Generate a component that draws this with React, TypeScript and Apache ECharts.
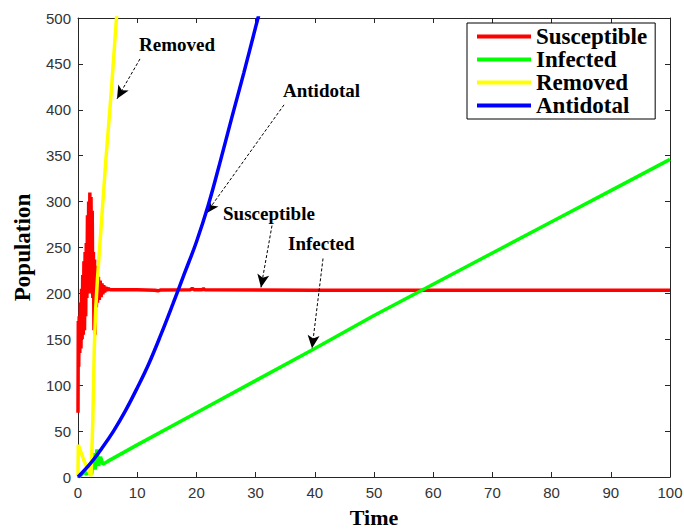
import React, { useEffect, useRef } from "react";
import * as echarts from "echarts";

// Simulated populations over time, as [time, population] pairs.
const susceptible: [number, number][] = [
  [0, 70], [0.05, 170], [0.12, 120], [0.2, 175], [0.3, 135], [0.4, 190], [0.5, 140],
  [0.6, 205], [0.7, 150], [0.8, 220], [0.9, 155], [1.0, 235], [1.1, 160], [1.2, 245],
  [1.3, 175], [1.4, 255], [1.5, 195], [1.6, 285], [1.7, 200], [1.8, 300], [1.9, 205],
  [2.0, 310], [2.1, 205], [2.2, 305], [2.3, 200], [2.4, 290], [2.5, 195], [2.6, 245],
  [2.7, 160], [2.8, 237], [2.9, 155], [3.0, 230], [3.1, 185], [3.2, 222], [3.3, 190],
  [3.45, 218], [3.6, 193], [3.75, 214], [3.9, 196], [4.05, 211], [4.2, 199], [4.35, 209],
  [4.5, 201], [4.7, 207], [4.9, 203], [5.1, 205.5], [5.4, 204], [10, 204], [13, 203.5],
  [13.5, 202.8], [14, 203.8], [19, 204], [19.3, 205.5], [19.6, 204], [21, 204], [21.2, 205.2],
  [21.4, 204], [40, 203.5], [70, 203.5], [100, 203.5],
];

const infected: [number, number][] = [
  [0, 0], [0.5, 2], [1, 5], [1.5, 3], [2, 10], [2.3, 3], [2.6, 26], [2.9, 8], [3.2, 30],
  [3.5, 12], [3.8, 22], [4.2, 14], [5, 17], [10, 35], [20, 70], [30, 105], [40, 140],
  [50, 176], [60, 210], [70, 244], [80, 278], [90, 312], [100, 346],
];

const removed: [number, number][] = [
  [0, 2], [0.05, 35], [1, 18], [2.2, 1], [2.5, 60], [2.75, 140], [3.0, 185], [3.3, 217],
  [3.9, 272], [4.7, 345], [5.6, 418], [6.5, 500], [6.7, 515],
];

const antidotal: [number, number][] = [
  [0, 0], [2, 14], [4, 31], [6, 50], [8, 72], [10, 97], [12, 124], [14, 155], [16, 188],
  [18, 222], [20, 256], [22, 296], [24, 343], [26, 392], [28, 440], [30, 490], [31, 515],
];

const seriesNames = ["Susceptible", "Infected", "Removed", "Antidotal"];
const seriesColors = ["#ff0000", "#00ff00", "#ffff00", "#0000ff"];
const seriesSmooth = [false, false, false, 0.4];

// Callout labels and their arrows: [label, from (time, population), to (time, population)].
const callouts: { text: string; from: [number, number]; to: [number, number] }[] = [
  { text: "Removed", from: [10.47, 455.4], to: [6.59, 412.0] },
  { text: "Antidotal", from: [34.8, 405.4], to: [21.62, 287.0] },
  { text: "Susceptible", from: [32.77, 273.9], to: [30.91, 206.5] },
  { text: "Infected", from: [41.39, 238.0], to: [39.53, 140.2] },
];
const calloutTextPos: [number, number][] = [
  [139, 35],
  [283, 81],
  [223, 204],
  [288, 234],
];

const xMin = 0, xMax = 100, xStep = 10;
const yMin = 0, yMax = 500, yStep = 50;

const axisColor = "#262626";
const serif = '"Liberation Serif", "Times New Roman", serif';
const sans = '"Liberation Sans", Arial, sans-serif';

function boxAxis(position: string, showLabels: boolean, kind: "x" | "y") {
  const isX = kind === "x";
  return {
    type: "value",
    position,
    min: isX ? xMin : yMin,
    max: isX ? xMax : yMax,
    interval: isX ? xStep : yStep,
    axisLine: { show: true, onZero: false, lineStyle: { color: axisColor, width: 1 } },
    axisTick: { show: true, inside: true, length: 5, lineStyle: { color: axisColor, width: 1 } },
    axisLabel: {
      show: showLabels,
      color: "#333333",
      fontSize: 15,
      fontFamily: sans,
      margin: isX ? 8 : 7,
    },
    splitLine: { show: false },
  };
}

export default function App() {
  const ref = useRef<HTMLDivElement>(null);

  useEffect(() => {
    if (!ref.current) return;
    const chart = echarts.init(ref.current, undefined, { renderer: "svg" });

    const data = [susceptible, infected, removed, antidotal];

    const xBottom: any = {
      ...boxAxis("bottom", true, "x"),
      name: "Time",
      nameLocation: "middle",
      nameGap: 29,
      nameTextStyle: { fontFamily: serif, fontWeight: "bold", fontSize: 22, color: "#000" },
    };
    const yLeft: any = {
      ...boxAxis("left", true, "y"),
      name: "Population",
      nameLocation: "middle",
      nameGap: 44,
      nameTextStyle: { fontFamily: serif, fontWeight: "bold", fontSize: 23, color: "#000" },
    };

    const series: any[] = seriesNames.map((name, i) => ({
      name,
      type: "line",
      xAxisIndex: 0,
      yAxisIndex: 0,
      data: data[i],
      showSymbol: false,
      symbol: "none",
      smooth: seriesSmooth[i],
      clip: true,
      lineStyle: { color: seriesColors[i], width: 3.5 },
      itemStyle: { color: seriesColors[i] },
      z: 2 + i,
    }));

    series[3].markLine = {
      silent: true,
      symbol: ["none", "arrow"],
      symbolSize: [9, 13],
      label: { show: false },
      lineStyle: { color: "#000", width: 1, type: [3, 2] },
      itemStyle: { color: "#000" },
      emphasis: { disabled: true },
      data: callouts.map((c) => [{ coord: c.from }, { coord: c.to }]),
    };

    chart.setOption({
      animation: false,
      backgroundColor: "#ffffff",
      grid: { left: 78, right: 14, top: 18, bottom: 54, containLabel: false, outerBoundsMode: "none" },
      legend: {
        data: seriesNames,
        orient: "vertical",
        left: 467,
        top: 23,
        icon: "rect",
        itemWidth: 54,
        itemHeight: 4,
        itemGap: 0,
        padding: [2, 8, 2, 10],
        backgroundColor: "#ffffff",
        borderColor: "#000",
        borderWidth: 1,
        borderRadius: 0,
        textStyle: {
          fontFamily: serif,
          fontWeight: "bold",
          fontSize: 23,
          lineHeight: 23,
          color: "#000",
        },
      },
      xAxis: [xBottom, boxAxis("top", false, "x")],
      yAxis: [yLeft, boxAxis("right", false, "y")],
      series,
      graphic: callouts.map((c, i) => ({
        type: "text",
        left: calloutTextPos[i][0],
        top: calloutTextPos[i][1],
        z: 10,
        style: {
          text: c.text,
          font: `bold 19px ${serif}`,
          fill: "#000",
        },
      })),
    });

    return () => chart.dispose();
  }, []);

  return (
    <div
      ref={ref}
      style={{ position: "fixed", left: 0, top: 0, width: 684, height: 531, background: "#fff" }}
    />
  );
}
